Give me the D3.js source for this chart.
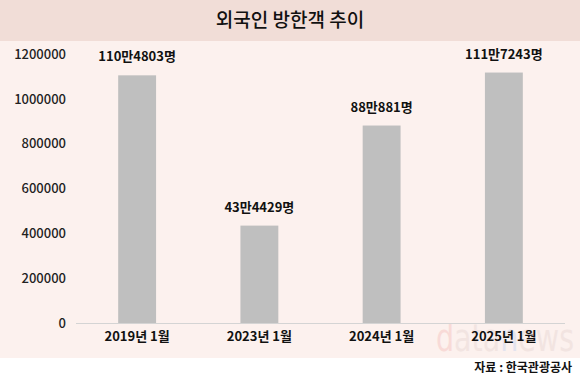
<!DOCTYPE html>
<html>
<head>
<meta charset="utf-8">
<script src="https://cdn.jsdelivr.net/npm/d3@7"></script>
<style>
  body { margin: 0; background: #fff; }
  svg { display: block; font-family: "Noto Sans CJK KR", "Noto Sans", sans-serif; }
</style>
</head>
<body>
<svg id="chart" width="580" height="385"></svg>
<script>
const categories = ["2019년 1월", "2023년 1월", "2024년 1월", "2025년 1월"];
const visitors = [1104803, 434429, 880881, 1117243];
const valueLabels = ["110만4803명", "43만4429명", "88만881명", "111만7243명"];
const yTicks = [0, 200000, 400000, 600000, 800000, 1000000, 1200000];

const svg = d3.select("#chart");
const W = 580, H = 385;

// backgrounds
svg.append("rect").attr("x", 0).attr("y", 41).attr("width", W).attr("height", 317).attr("fill", "#fcf1ee");
svg.append("rect").attr("x", 0).attr("y", 0).attr("width", W).attr("height", 41).attr("fill", "#f1ddd7");

svg.append("text")
  .attr("x", W / 2).attr("y", 27)
  .attr("text-anchor", "middle")
  .attr("font-size", 19)
  .attr("font-weight", 500)
  .attr("fill", "#111")
  .text("외국인 방한객 추이");

// watermark
const wm = svg.append("text").attr("x", 436).attr("y", 351)
  .attr("font-size", 38).attr("font-family", "DejaVu Sans, sans-serif")
  .attr("textLength", 138).attr("lengthAdjust", "spacingAndGlyphs")
  .attr("opacity", 0.55);
wm.append("tspan").attr("fill", "#f6c9c5").text("d");
wm.append("tspan").attr("fill", "#eadbd8").text("ata");
wm.append("tspan").attr("fill", "#cfd8ee").text("n");
wm.append("tspan").attr("fill", "#eadbd8").text("ews");

const x = d3.scaleBand().domain(categories).range([76, 565]).paddingInner(0.69).paddingOuter(0.345);
const y = d3.scaleLinear().domain([0, 1200000]).range([323, 54]);

// y axis labels
const yAxis = svg.append("g").attr("transform", "translate(66,0)")
  .call(d3.axisLeft(y).tickValues(yTicks).tickFormat(d3.format("d")).tickSize(0).tickPadding(0));
yAxis.select(".domain").remove();
yAxis.selectAll("text").attr("font-size", 13).attr("font-weight", 500).attr("fill", "#222")
  .attr("font-family", "\"Noto Sans CJK KR\", sans-serif");

// bars
svg.append("g").selectAll("rect")
  .data(visitors)
  .join("rect")
  .attr("x", (d, i) => x(categories[i]))
  .attr("y", d => y(d))
  .attr("width", x.bandwidth())
  .attr("height", d => y(0) - y(d))
  .attr("fill", "#bfbfbf");

// baseline
svg.append("line").attr("x1", 76).attr("x2", 565).attr("y1", y(0) + 0.5).attr("y2", y(0) + 0.5)
  .attr("stroke", "#d4d4d4").attr("stroke-width", 1);

// value labels
svg.append("g").selectAll("text")
  .data(visitors)
  .join("text")
  .attr("x", (d, i) => x(categories[i]) + x.bandwidth() / 2)
  .attr("y", d => y(d) - 14)
  .attr("text-anchor", "middle")
  .attr("font-size", 13)
  .attr("font-weight", 700)
  .attr("fill", "#111")
  .text((d, i) => valueLabels[i]);

// x axis labels
const xAxis = svg.append("g").attr("transform", `translate(0,${y(0)})`)
  .call(d3.axisBottom(x).tickSize(0).tickPadding(9));
xAxis.select(".domain").remove();
xAxis.selectAll("text").attr("font-size", 13).attr("font-weight", 700).attr("fill", "#111")
  .attr("font-family", "\"Noto Sans CJK KR\", sans-serif");

svg.append("text")
  .attr("x", 572).attr("y", 372)
  .attr("text-anchor", "end")
  .attr("font-size", 12)
  .attr("font-weight", 700)
  .attr("fill", "#111")
  .text("자료 : 한국관광공사");
</script>
</body>
</html>
